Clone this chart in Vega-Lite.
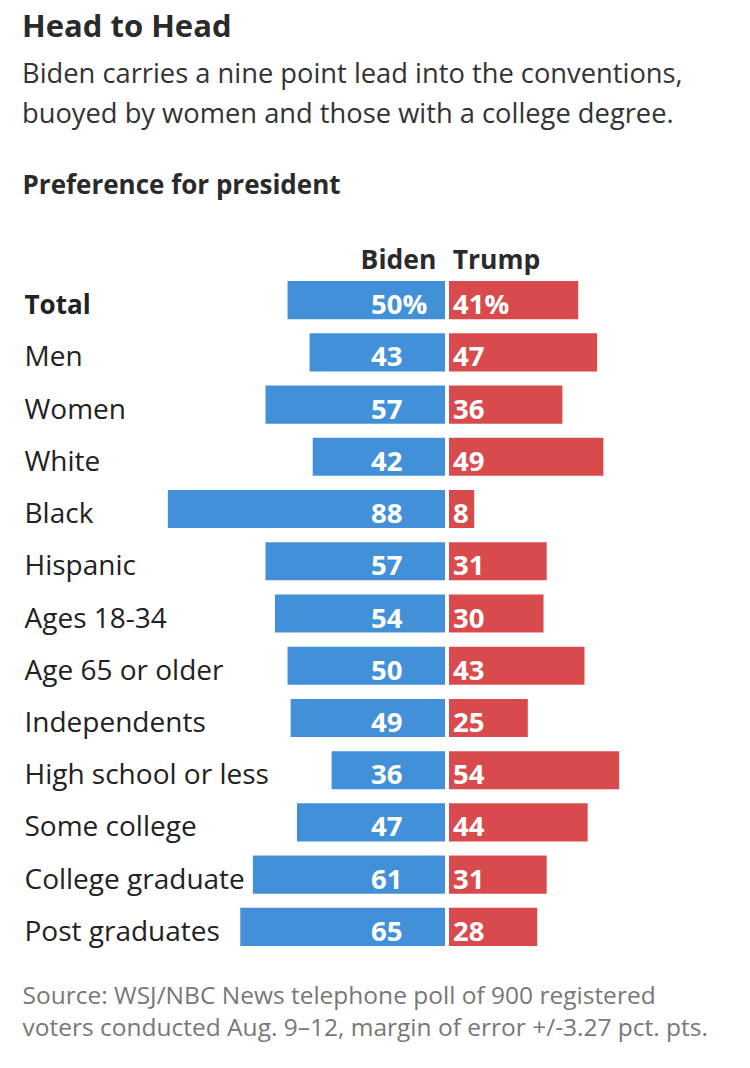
{
  "$schema": "https://vega.github.io/schema/vega-lite/v6.json",
  "padding": {"left": 22, "top": 11, "right": 5, "bottom": 10},
  "background": "white",
  "config": {"font": "Open Sans", "view": {"stroke": null}},
  "title": {
    "text": "Head to Head",
    "subtitle": ["Biden carries a nine point lead into the conventions,", "buoyed by women and those with a college degree."],
    "anchor": "start",
    "fontSize": 31,
    "fontWeight": "bold",
    "color": "#2a2a2a",
    "subtitleFontSize": 27.3,
    "subtitleColor": "#333333",
    "subtitleLineHeight": 40,
    "subtitlePadding": 17,
    "offset": 43
  },
  "datasets": {
    "poll": [
      {"group": "Total", "candidate": "Biden", "pct": 50, "label": "50%"},
      {"group": "Men", "candidate": "Biden", "pct": 43, "label": "43"},
      {"group": "Women", "candidate": "Biden", "pct": 57, "label": "57"},
      {"group": "White", "candidate": "Biden", "pct": 42, "label": "42"},
      {"group": "Black", "candidate": "Biden", "pct": 88, "label": "88"},
      {"group": "Hispanic", "candidate": "Biden", "pct": 57, "label": "57"},
      {"group": "Ages 18-34", "candidate": "Biden", "pct": 54, "label": "54"},
      {"group": "Age 65 or older", "candidate": "Biden", "pct": 50, "label": "50"},
      {"group": "Independents", "candidate": "Biden", "pct": 49, "label": "49"},
      {"group": "High school or less", "candidate": "Biden", "pct": 36, "label": "36"},
      {"group": "Some college", "candidate": "Biden", "pct": 47, "label": "47"},
      {"group": "College graduate", "candidate": "Biden", "pct": 61, "label": "61"},
      {"group": "Post graduates", "candidate": "Biden", "pct": 65, "label": "65"},
      {"group": "Total", "candidate": "Trump", "pct": 41, "label": "41%"},
      {"group": "Men", "candidate": "Trump", "pct": 47, "label": "47"},
      {"group": "Women", "candidate": "Trump", "pct": 36, "label": "36"},
      {"group": "White", "candidate": "Trump", "pct": 49, "label": "49"},
      {"group": "Black", "candidate": "Trump", "pct": 8, "label": "8"},
      {"group": "Hispanic", "candidate": "Trump", "pct": 31, "label": "31"},
      {"group": "Ages 18-34", "candidate": "Trump", "pct": 30, "label": "30"},
      {"group": "Age 65 or older", "candidate": "Trump", "pct": 43, "label": "43"},
      {"group": "Independents", "candidate": "Trump", "pct": 25, "label": "25"},
      {"group": "High school or less", "candidate": "Trump", "pct": 54, "label": "54"},
      {"group": "Some college", "candidate": "Trump", "pct": 44, "label": "44"},
      {"group": "College graduate", "candidate": "Trump", "pct": 31, "label": "31"},
      {"group": "Post graduates", "candidate": "Trump", "pct": 28, "label": "28"}
    ]
  },
  "data": {"name": "poll"},
  "bounds": "flush",
  "spacing": 4,
  "hconcat": [
    {
      "width": 423,
      "height": 679,
      "transform": [{"filter": "datum.candidate === 'Biden'"}],
      "encoding": {
        "y": {
          "field": "group",
          "type": "nominal",
          "sort": ["Total", "Men", "Women", "White", "Black", "Hispanic", "Ages 18-34", "Age 65 or older", "Independents", "High school or less", "Some college", "College graduate", "Post graduates"],
          "scale": {"paddingInner": 0.27, "paddingOuter": 0.135},
          "axis": {
            "title": null,
            "domain": false,
            "ticks": false,
            "tickSize": 0,
            "labelAlign": "left",
            "labelPadding": -2,
            "labelOffset": 6,
            "labelLimit": 0,
            "labelColor": "#222222",
            "labelFontSize": {"condition": {"test": "datum.value === 'Total'", "value": 26}, "value": 28},
            "labelFontWeight": {"condition": {"test": "datum.value === 'Total'", "value": "bold"}, "value": "normal"}
          }
        }
      },
      "layer": [
        {
          "mark": {"type": "bar", "color": "#4291d8"},
          "encoding": {
            "x": {
              "field": "pct",
              "type": "quantitative",
              "scale": {"domain": [134.3, 0], "nice": false},
              "axis": {
                "orient": "top",
                "values": [2.9],
                "labelExpr": "'Biden'",
                "labelAlign": "right",
                "labelBaseline": "alphabetic",
                "labelPadding": 6,
                "labelFontSize": 26.5,
                "labelFontWeight": "bold",
                "labelColor": "#2a2a2a",
                "ticks": false,
                "tickSize": 0,
                "domain": false,
                "grid": false,
                "title": "Preference for president",
                "titleAnchor": "start",
                "titleAlign": "left",
                "titleFontSize": 26,
                "titleFontWeight": "bold",
                "titleColor": "#2a2a2a",
                "titlePadding": 49
              }
            }
          }
        },
        {
          "mark": {"type": "text", "align": "left", "baseline": "middle", "dx": -74, "dy": 6, "fontSize": 27.5, "fontWeight": "bold", "color": "white"},
          "encoding": {
            "x": {
              "datum": 0,
              "type": "quantitative",
              "axis": {
                "orient": "bottom",
                "labels": false,
                "ticks": false,
                "domain": false,
                "grid": false,
                "title": ["Source: WSJ/NBC News telephone poll of 900 registered", "voters conducted Aug. 9–12, margin of error +/-3.27 pct. pts."],
                "titleAnchor": "start",
                "titleAlign": "left",
                "titleBaseline": "top",
                "titleFontSize": 24.5,
                "titleFontWeight": "normal",
                "titleColor": "#777777",
                "titleLineHeight": 32,
                "titlePadding": 31.5
              }
            },
            "text": {"field": "label"}
          }
        }
      ],
      "resolve": {"axis": {"x": "independent"}}
    },
    {
      "width": 282,
      "height": 679,
      "transform": [{"filter": "datum.candidate === 'Trump'"}],
      "encoding": {
        "y": {
          "field": "group",
          "type": "nominal",
          "sort": ["Total", "Men", "Women", "White", "Black", "Hispanic", "Ages 18-34", "Age 65 or older", "Independents", "High school or less", "Some college", "College graduate", "Post graduates"],
          "scale": {"paddingInner": 0.27, "paddingOuter": 0.135},
          "axis": null
        }
      },
      "layer": [
        {
          "mark": {"type": "bar", "color": "#d94a4c"},
          "encoding": {
            "x": {
              "field": "pct",
              "type": "quantitative",
              "scale": {"domain": [0, 89.5], "nice": false},
              "axis": {
                "orient": "top",
                "values": [1],
                "labelExpr": "'Trump'",
                "labelAlign": "left",
                "labelBaseline": "alphabetic",
                "labelPadding": 6,
                "labelFontSize": 26.5,
                "labelFontWeight": "bold",
                "labelColor": "#2a2a2a",
                "ticks": false,
                "tickSize": 0,
                "domain": false,
                "grid": false,
                "title": null
              }
            }
          }
        },
        {
          "mark": {"type": "text", "align": "left", "baseline": "middle", "dx": 4, "dy": 6, "fontSize": 27.5, "fontWeight": "bold", "color": "white"},
          "encoding": {
            "x": {"datum": 0, "type": "quantitative"},
            "text": {"field": "label"}
          }
        }
      ]
    }
  ]
}
